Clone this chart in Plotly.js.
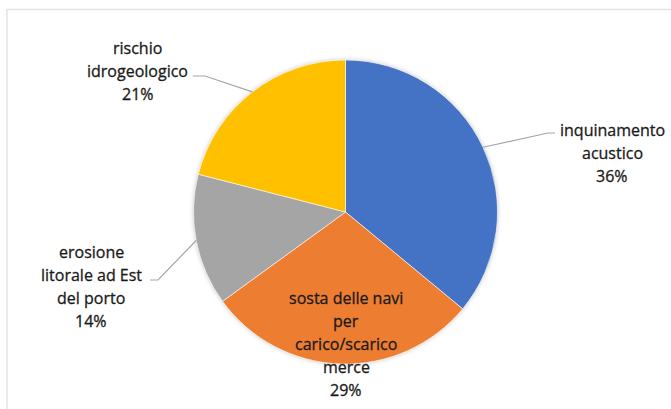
<!DOCTYPE html>
<html>
<head>
<meta charset="utf-8">
<script src="https://cdn.plot.ly/plotly-3.0.1.min.js"></script>
<style>
  html, body { margin: 0; padding: 0; background: #ffffff; }
  #chart { width: 671px; height: 409px; }
  .pielayer { filter: drop-shadow(0px 0px 2px rgba(0,0,0,0.22)); }
  .annotation-text { stroke: #1a1a1a; stroke-width: 0.3px; }
</style>
</head>
<body>
<div id="chart"></div>
<script>
// ---- data ----
const labels = [
  "inquinamento<br>acustico",
  "sosta delle navi<br>per<br>carico/scarico<br>merce",
  "erosione<br>litorale ad Est<br>del porto",
  "rischio<br>idrogeologico"
];
const values = [36, 29, 14, 21];

// ---- styling / layout ----
const sliceColors = ["#4472C4", "#ED7D31", "#A5A5A5", "#FFC000"];
const W = 671, H = 409;
const cx = 345.5, cy = 212, R = 152;
const px = x => x / W;
const py = y => 1 - y / H;

// label placement: [center x, first line y, leader knee, leader end] (pixels)
const labelPos = [
  { x: 612, y: 130, knee: [548, 133], end: [555, 133] },
  { x: 346, y: 298, knee: null, end: null },
  { x: 91,  y: 252, knee: [158, 280], end: [150, 280] },
  { x: 137.5, y: 48, knee: [205, 76], end: [193, 76] }
];
const lineH = 23;
const fontStyle = { family: "Open Sans, sans-serif", size: 16, color: "#1a1a1a" };

const total = values.reduce((a, b) => a + b, 0);
const annotations = [];
const shapes = [];

// chart area border
shapes.push({
  type: "rect", xref: "paper", yref: "paper",
  x0: px(7), x1: 1.02, y0: -0.02, y1: py(9.5),
  line: { color: "#E4E4E4", width: 1.5 }, fillcolor: "rgba(0,0,0,0)", layer: "below"
});

let cum = 0;
values.forEach((v, i) => {
  const mid = (cum + v / 2) / total;
  cum += v;
  const ang = mid * 2 * Math.PI;
  const ex = cx + R * Math.sin(ang);
  const ey = cy - R * Math.cos(ang);
  const pos = labelPos[i];
  const lines = labels[i].split("<br>").concat([v + "%"]);
  lines.forEach((t, k) => {
    annotations.push({
      xref: "paper", yref: "paper",
      x: px(pos.x), y: py(pos.y + k * lineH),
      xanchor: "center", yanchor: "middle",
      text: t, showarrow: false, font: fontStyle
    });
  });
  if (pos.knee) {
    shapes.push({
      type: "path", xref: "paper", yref: "paper",
      path: "M " + px(ex) + " " + py(ey) +
            " L " + px(pos.knee[0]) + " " + py(pos.knee[1]) +
            " L " + px(pos.end[0]) + " " + py(pos.end[1]),
      line: { color: "#A6A6A6", width: 1.2 }
    });
  }
});

const trace = {
  type: "pie",
  labels: labels,
  values: values,
  sort: false,
  direction: "clockwise",
  rotation: 0,
  textinfo: "none",
  hoverinfo: "label+percent",
  marker: { colors: sliceColors, line: { color: "rgba(255,255,255,0.6)", width: 1 } },
  domain: { x: [px(cx - R), px(cx + R)], y: [py(cy + R), py(cy - R)] },
  showlegend: false
};

const layout = {
  width: W, height: H,
  margin: { l: 0, r: 0, t: 0, b: 0 },
  paper_bgcolor: "#ffffff",
  plot_bgcolor: "#ffffff",
  showlegend: false,
  annotations: annotations,
  shapes: shapes
};

Plotly.newPlot("chart", [trace], layout, { displayModeBar: false, staticPlot: true });
</script>
</body>
</html>
